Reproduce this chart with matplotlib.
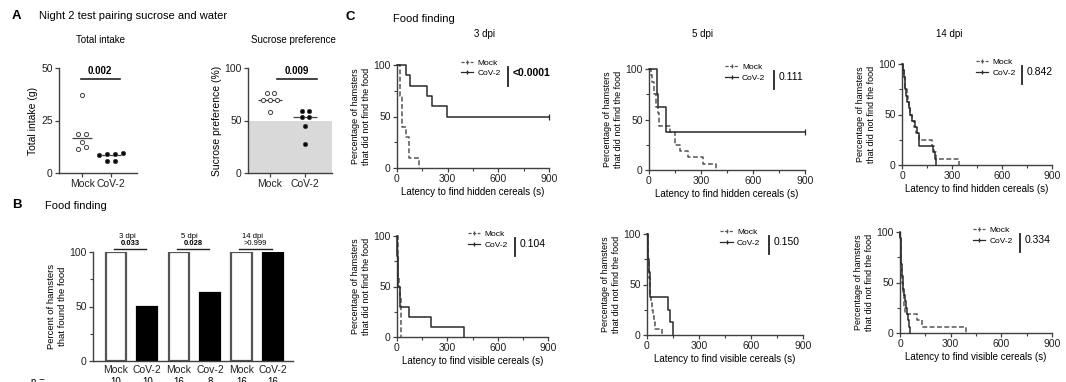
import numpy as np
import matplotlib
matplotlib.use("Agg")
import matplotlib.pyplot as plt
from matplotlib.lines import Line2D
from matplotlib.ticker import MultipleLocator

plt.rcParams["font.family"] = ["Liberation Sans", "DejaVu Sans"]

W, H = 1066, 382

# ---- panel A: night 2 sucrose / water pairing
groups = ["Mock", "CoV-2"]
intake_mock = [37, 18.5, 18.5, 15, 11.5, 12.5]
intake_cov = [9, 8.5, 9, 9.5, 5.7, 5.7]
pref_mock = [76, 76, 70, 70, 70, 58]
pref_cov = [59, 59, 53, 53, 45, 28]
p_intake = "0.002"
p_pref = "0.009"

# ---- panel B: percent that found the food
bar_labels = ["Mock", "CoV-2", "Mock", "Cov-2", "Mock", "CoV-2"]
found_pct = [100, 50, 100, 62.5, 100, 100]
n_animals = [10, 10, 16, 8, 16, 16]
dpi_labels = ["3 dpi", "5 dpi", "14 dpi"]
bar_pvals = ["0.033", "0.028", ">0.999"]

# ---- panel C: latencies (s); 900 = test ended, food not found (censored)
CUTOFF = 900
hidden_3_mock = [16, 16, 16, 30, 30, 30, 55, 69, 69, 132]
hidden_3_cov = [53, 79, 177, 206, 299, 900, 900, 900, 900, 900]
hidden_5_mock = [10, 20, 30, 30, 40, 40, 50, 55, 55, 120, 150, 150, 180, 225, 310, 385]
hidden_5_cov = [45, 48, 50, 100, 100, 900, 900, 900]
hidden_14_mock = [5, 10, 15, 20, 28, 35, 42, 50, 60, 70, 85, 100, 180, 190, 205, 340]
hidden_14_cov = [5, 10, 15, 20, 25, 30, 40, 50, 60, 75, 90, 100, 100, 185, 195, 205]
visible_3_mock = [3, 5, 6, 8, 10, 20, 22, 24, 24, 24]
visible_3_cov = [1, 2, 3, 4, 5, 16, 16, 70, 205, 398]
visible_5_mock = [3, 5, 6, 8, 10, 12, 14, 15, 18, 20, 25, 30, 35, 40, 45, 87]
visible_5_cov = [5, 8, 12, 15, 20, 120, 135, 150]
visible_14_mock = [2, 3, 4, 5, 6, 8, 10, 12, 15, 18, 22, 25, 28, 100, 128, 390]
visible_14_cov = [2, 4, 5, 6, 8, 10, 12, 15, 20, 25, 30, 35, 40, 48, 55, 62]
hidden_pvals = ["<0.0001", "0.111", "0.842"]
visible_pvals = ["0.104", "0.150", "0.334"]


def px_axes(fig, left, top, right, bottom):
    return fig.add_axes([left / W, 1 - bottom / H, (right - left) / W, (bottom - top) / H])


def fig_text(fig, x, y, s, **kw):
    kw.setdefault("va", "center")
    fig.text(x / W, 1 - y / H, s, **kw)


def style_axes(ax):
    for side in ("top", "right"):
        ax.spines[side].set_visible(False)
    for side in ("left", "bottom"):
        ax.spines[side].set_linewidth(1.0)
        ax.spines[side].set_color("#404040")
    ax.tick_params(direction="out", length=3, width=0.9, labelsize=7.5, pad=1.5,
                   color="#404040", labelcolor="#222222")
    ax.tick_params(which="minor", length=2, width=0.8, color="#404040")


def swarm_offsets(values, tol, step):
    """Spread near-equal values sideways like a GraphPad scatter."""
    values = np.asarray(values, float)
    order = np.argsort(values)
    offs = np.zeros(len(values))
    i = 0
    while i < len(order):
        j = i
        while j + 1 < len(order) and values[order[j + 1]] - values[order[i]] <= tol:
            j += 1
        k = j - i + 1
        offs[order[i:j + 1]] = (np.arange(k) - (k - 1) / 2) * step
        i = j + 1
    return offs


def km_steps(latencies):
    t = np.sort(np.asarray(latencies, float))
    at_risk = len(t)
    surv = 100.0
    xs, ys = [0.0], [100.0]
    for time in np.unique(t[t < CUTOFF]):
        d = int(np.sum(t == time))
        surv *= (at_risk - d) / at_risk
        at_risk -= d
        xs.append(time)
        ys.append(surv)
    censored = int(np.sum(t >= CUTOFF))
    if censored:
        xs.append(CUTOFF)
        ys.append(surv)
    return xs, ys, censored


fig = plt.figure(figsize=(W / 100, H / 100), dpi=100)

# ---------------- panel A
fig_text(fig, 12, 16, "A", fontsize=9.5, weight="bold")
fig_text(fig, 39, 16, "Night 2 test pairing sucrose and water", fontsize=8)


def dot_panel(ax, mock, cov, tol, step, ylim, yticks, ylabel, pval, bracket):
    for i, (vals, face) in enumerate([(mock, "white"), (cov, "black")]):
        offs = swarm_offsets(vals, tol, step)
        ax.scatter(i + offs, vals, s=9, facecolor=face, edgecolor="#444444",
                   linewidth=0.7, zorder=3, clip_on=False)
        ax.hlines(np.median(vals), i - 0.34, i + 0.34, color="#444444", lw=0.9, zorder=2)
    ax.set_ylim(*ylim)
    ax.set_yticks(yticks)
    ax.set_xticks([0, 1])
    ax.set_xticklabels(groups)
    ax.set_ylabel(ylabel, fontsize=7.5, labelpad=2)
    top = ylim[1]
    ax.plot(bracket, [top * 0.9] * 2, color="#222222", lw=1.2, clip_on=False)
    ax.text(np.mean(bracket), top * 0.92, pval, ha="center", va="bottom",
            fontsize=7, weight="bold")


ax = px_axes(fig, 59, 68, 137, 173)
style_axes(ax)
ax.set_xlim(-0.8, 1.9)
dot_panel(ax, intake_mock, intake_cov, 1.5, 0.28, (0, 50), [0, 25, 50],
          "Total intake (g)", p_intake, [-0.05, 1.3])
fig_text(fig, 100, 40, "Total intake", fontsize=7, ha="center")

ax = px_axes(fig, 248, 68, 332, 173)
style_axes(ax)
ax.set_xlim(-0.63, 1.77)
ax.axhspan(0, 50, color="#d9d9d9", zorder=0, lw=0)
dot_panel(ax, pref_mock, pref_cov, 2.5, 0.2, (0, 100), [0, 50, 100],
          "Sucrose preference (%)", p_pref, [0.2, 1.35])
fig_text(fig, 293, 40, "Sucrose preference", fontsize=7, ha="center")

# ---------------- panel B
fig_text(fig, 12, 205, "B", fontsize=9.5, weight="bold")
fig_text(fig, 45, 206, "Food finding", fontsize=8)

ax = px_axes(fig, 93, 252, 293, 361)
style_axes(ax)
pos = np.arange(len(found_pct))
colors = ["white" if i % 2 == 0 else "black" for i in pos]
edges = ["#555555" if i % 2 == 0 else "black" for i in pos]
ax.bar(pos, found_pct, width=0.64, color=colors, edgecolor=edges, linewidth=1.6, zorder=2)
ax.set_xlim(-0.73, 5.64)
ax.set_ylim(0, 100)
ax.set_yticks([0, 50, 100])
ax.yaxis.set_minor_locator(MultipleLocator(25))
ax.set_xticks(pos)
ax.set_xticklabels(bar_labels)
ax.tick_params(axis="x", length=0, pad=3)
ax.set_ylabel("Percent of hamsters\nthat found the food", fontsize=6.8, labelpad=2)
for k, (lab, pv) in enumerate(zip(dpi_labels, bar_pvals)):
    c = 2 * k + 0.45
    ax.plot([c - 0.52, c + 0.52], [102.5, 102.5], color="#222222", lw=1.0, clip_on=False)
    ax.text(c, 107.8, pv, ha="center", va="center", fontsize=5.5,
            weight="bold" if pv[0].isdigit() else "normal")
    ax.text(c - 0.1, 114, lab, ha="center", va="center", fontsize=5.5)
ax.text(-2.7, -19.2, "n =", ha="left", va="center", fontsize=7, clip_on=False)
for p, n in zip(pos, n_animals):
    ax.text(p, -19.2, str(n), ha="center", va="center", fontsize=7, clip_on=False)

# ---------------- panel C
fig_text(fig, 346, 17, "C", fontsize=9.5, weight="bold")
fig_text(fig, 393, 19, "Food finding", fontsize=8)
for x, lab in zip([484, 703, 949], dpi_labels):
    fig_text(fig, x, 34, lab, fontsize=7, ha="center")

km_rects = [
    [(397, 65, 549, 168), (649, 69, 805, 170), (902, 64, 1052, 165)],
    [(397, 236, 548, 337), (647, 234, 803, 335), (900, 232, 1052, 333)],
]
km_data = [
    [(hidden_3_mock, hidden_3_cov), (hidden_5_mock, hidden_5_cov), (hidden_14_mock, hidden_14_cov)],
    [(visible_3_mock, visible_3_cov), (visible_5_mock, visible_5_cov), (visible_14_mock, visible_14_cov)],
]
km_pvals = [hidden_pvals, visible_pvals]
xlabels = ["Latency to find hidden cereals (s)", "Latency to find visible cereals (s)"]
legend_x = [[0.42, 0.49, 0.49], [0.47, 0.47, 0.48]]

for r in range(2):
    for c in range(3):
        ax = px_axes(fig, *km_rects[r][c])
        style_axes(ax)
        mock, cov = km_data[r][c]
        for lat, ls, col in [(mock, (0, (3.2, 1.6)), "#555555"), (cov, "-", "#2a2a2a")]:
            xs, ys, cens = km_steps(lat)
            ax.step(xs, ys, where="post", ls=ls, color=col, lw=1.1, clip_on=False, zorder=3)
            if cens:
                ax.plot([CUTOFF], [ys[-1]], marker="|", ms=4, color=col, mew=0.9, clip_on=False)
        ax.set_xlim(0, 900)
        ax.set_ylim(0, 100)
        ax.set_xticks([0, 300, 600, 900])
        ax.set_yticks([0, 50, 100])
        ax.xaxis.set_minor_locator(MultipleLocator(150))
        ax.yaxis.set_minor_locator(MultipleLocator(25))
        ax.set_xlabel(xlabels[r], fontsize=7, labelpad=2)
        ax.set_ylabel("Percentage of hamsters\nthat did not find the food", fontsize=6.5, labelpad=2)

        handles = [
            Line2D([], [], ls=(0, (2.5, 1.2)), color="#555555", lw=0.9, marker="|", ms=3),
            Line2D([], [], ls="-", color="#2a2a2a", lw=0.9, marker="|", ms=3),
        ]
        lx = legend_x[r][c]
        ax.legend(handles, ["Mock", "CoV-2"], loc="upper left", bbox_to_anchor=(lx, 1.06),
                  frameon=False, fontsize=6, handlelength=1.5, handletextpad=0.5,
                  labelspacing=0.35, borderpad=0, borderaxespad=0)
        pv = km_pvals[r][c]
        bx = lx + 0.31
        ax.plot([bx, bx], [0.8, 0.98], transform=ax.transAxes, color="#222222",
                lw=1.3, clip_on=False)
        ax.text(bx + 0.03, 0.92, pv, transform=ax.transAxes, ha="left", va="center",
                fontsize=7.5, weight="bold" if pv.startswith("<") else "normal")

fig.savefig("out.png", dpi=100)
